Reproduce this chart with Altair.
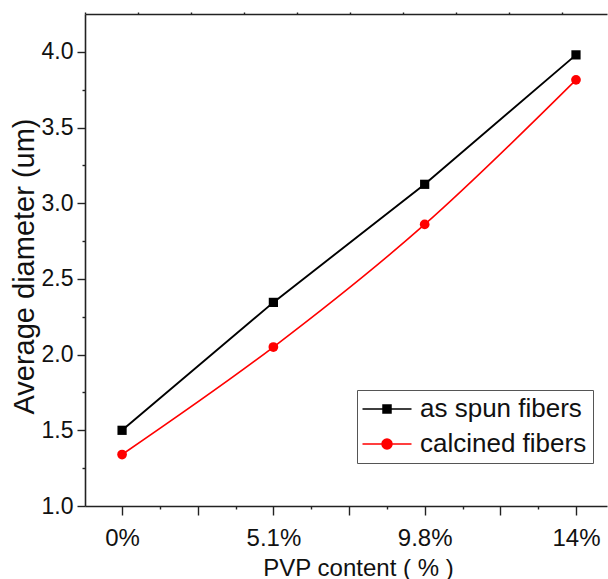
import json
import altair as alt
import pandas as pd

# ---- data ----
categories = ["0%", "5.1%", "9.8%", "14%"]
as_spun = [1.50, 2.345, 3.125, 3.98]
calcined = [1.34, 2.05, 2.86, 3.815]
series_names = ["as spun fibers", "calcined fibers"]
series_colors = ["#000000", "#ff0000"]
y_tick_values = [1.0 + 0.25 * i for i in range(13)]
x_tick_values = [0.25 * i for i in range(13)]
top_tick_values = [-0.245 + 0.3503 * i for i in range(10)]

rows = []
for i, c in enumerate(categories):
    rows.append({"pos": i, "cat": c, "value": as_spun[i], "series": series_names[0]})
    rows.append({"pos": i, "cat": c, "value": calcined[i], "series": series_names[1]})
df = pd.DataFrame(rows)

FONT = "Liberation Sans"
AXIS_COLOR = "#222222"

x_domain = [-0.245, 3.205]
y_domain = [1.0, 4.25]

cat_js = json.dumps(categories)
x_label_expr = f"datum.value % 1 === 0 ? {cat_js}[datum.value] : ''"
y_label_expr = "datum.value % 0.5 === 0 ? format(datum.value, '.1f') : ''"

x_scale = alt.Scale(domain=x_domain, nice=False, zero=False)
y_scale = alt.Scale(domain=y_domain, nice=False, zero=False)

bottom_axis = alt.Axis(
    orient="bottom", values=x_tick_values, labelExpr=x_label_expr,
    title="PVP content ( % )", grid=False,
    domainColor=AXIS_COLOR, domainWidth=1.6, tickColor=AXIS_COLOR, tickWidth=1.4,
    tickSize={"condition": {"test": "datum.value % 0.5 === 0", "value": 9}, "value": 3},
    labelFont=FONT, labelFontSize=24, labelColor="#111", labelPadding=11,
    labelFlush=False, labelOverlap=False,
    titleFont=FONT, titleFontSize=24, titleFontWeight="normal", titleColor="#111",
    titleX=273, titleY=69, titleBaseline="alphabetic", titleAnchor="start", titleAlign="center",
)
top_axis = alt.Axis(
    orient="top", values=top_tick_values, labels=False, title=None, grid=False,
    domainColor=AXIS_COLOR, domainWidth=1.6, tickColor=AXIS_COLOR, tickWidth=1.4,
    tickSize=2,
)
left_axis = alt.Axis(
    orient="left", values=y_tick_values, labelExpr=y_label_expr,
    title="Average diameter (um)", grid=False,
    domainColor=AXIS_COLOR, domainWidth=1.6, tickColor=AXIS_COLOR, tickWidth=1.4,
    tickSize={"condition": {"test": "datum.value % 0.5 === 0", "value": 8}, "value": 3},
    labelFont=FONT, labelFontSize=23, labelColor="#111", labelPadding=4,
    labelFlush=False, labelOverlap=False, labelBaseline="middle",
    titleFont=FONT, titleFontSize=29, titleFontWeight="normal", titleColor="#111",
    titleX=-61, titleY=252, titleAngle=-90, titleBaseline="middle", titleAlign="center",
)

base = alt.Chart(df)
spun_data = base.transform_filter(alt.datum.series == series_names[0])
calc_data = base.transform_filter(alt.datum.series == series_names[1])

line_spun = spun_data.mark_line(color=series_colors[0], strokeWidth=1.9).encode(
    x=alt.X("pos:Q", scale=x_scale, axis=bottom_axis),
    y=alt.Y("value:Q", scale=y_scale, axis=left_axis),
)
line_calc = calc_data.mark_line(
    color=series_colors[1], strokeWidth=1.6, interpolate="monotone"
).encode(
    x=alt.X("pos:Q", scale=x_scale, axis=top_axis),
    y=alt.Y("value:Q", scale=y_scale, axis=None),
)
pts_spun = spun_data.mark_point(
    shape="square", filled=True, size=85, opacity=1, color=series_colors[0]
).encode(
    x=alt.X("pos:Q", scale=x_scale, axis=None),
    y=alt.Y("value:Q", scale=y_scale, axis=None),
)
pts_calc = calc_data.mark_point(
    shape="circle", filled=True, size=95, opacity=1, color=series_colors[1]
).encode(
    x=alt.X("pos:Q", scale=x_scale, axis=None),
    y=alt.Y("value:Q", scale=y_scale, axis=None),
)

# legend-only layer: line-with-marker symbols (no data rows drawn)
legend_paths = [
    "M-4.9,0H4.9M-0.8,-0.8H0.8V0.8H-0.8Z",
    "M-4.9,0H4.9M-1,0A1,1 0 1,1 1,0A1,1 0 1,1 -1,0Z",
]
legend = alt.Legend(
    orient="none", legendX=272, legendY=376, title=None,
    labelFont=FONT, labelFontSize=26, labelColor="#111", labelLimit=0,
    symbolSize=100, symbolStrokeWidth=1.5,
    strokeColor="#555555", fillColor="white", padding=6,
    rowPadding=9, labelOffset=20, symbolOffset=11,
)
legend_layer = base.transform_filter("false").mark_point(filled=False, opacity=1).encode(
    x=alt.X("pos:Q", scale=x_scale, axis=None),
    y=alt.Y("value:Q", scale=y_scale, axis=None),
    fill=alt.Fill("series:N", scale=alt.Scale(domain=series_names, range=series_colors), legend=legend),
    stroke=alt.Stroke("series:N", scale=alt.Scale(domain=series_names, range=series_colors), legend=legend),
    shape=alt.Shape("series:N", scale=alt.Scale(domain=series_names, range=legend_paths), legend=legend),
)

chart = alt.layer(line_spun, line_calc, pts_spun, pts_calc, legend_layer).resolve_axis(
    x="independent", y="independent"
).properties(
    width=522, height=492,
    autosize=alt.AutoSizeParams(type="none"),
    padding={"left": 85, "top": 14, "right": 1, "bottom": 73},
    background="white",
).configure_view(stroke=None)

chart.save("out.html", embed_options={"renderer": "svg", "actions": False})
